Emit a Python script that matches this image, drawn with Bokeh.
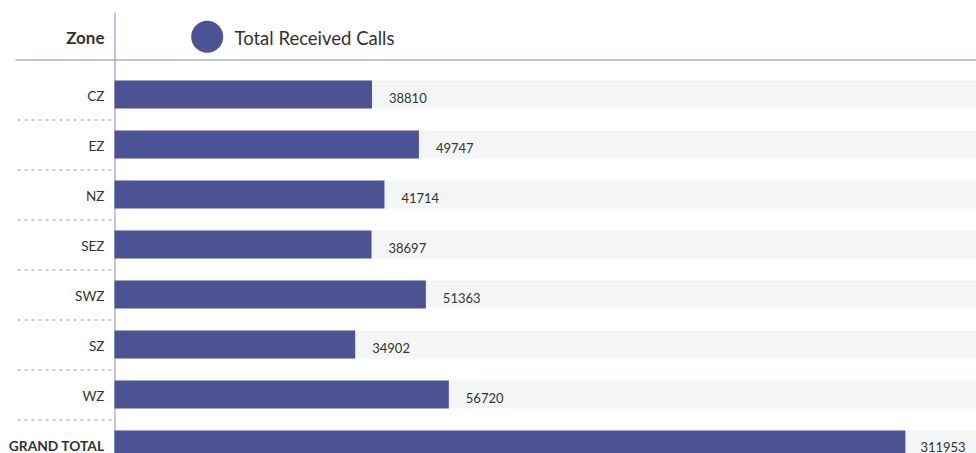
from bokeh.plotting import figure
from bokeh.models import Range1d, ColumnDataSource
from bokeh.core.properties import value
from bokeh.embed import file_html
from bokeh.resources import INLINE

# ---- data ----
zones = ["CZ", "EZ", "NZ", "SEZ", "SWZ", "SZ", "WZ"]
calls = [38810, 49747, 41714, 38697, 51363, 34902, 56720]
total_name = "GRAND TOTAL"
total_calls = 311953
series_name = "Total Received Calls"
axis_title = "Zone"

# ---- layout / style ----
W, H = 976, 453
ORIGIN = 114            # px where the bars start
ZONE_LO, ZONE_HI = -21200, 179700
TOTAL_LO, TOTAL_HI = 0, 340000
NAVY = "#4b5394"
LAVENDER = "#8388c6"
TRACK = "#f4f6f6"
TEXT = "#333333"
FONT = "Lato"
BAR_H = 0.56


def full_range(lo, hi):
    per_px = (hi - lo) / (W - ORIGIN)
    return Range1d(lo - ORIGIN * per_px, hi)


rows = list(range(len(zones)))
total_row = len(zones)

p = figure(width=W, height=H, x_range=Range1d(0, W),
           y_range=Range1d(start=7.18, end=-1.88),
           x_axis_type=None, y_axis_type=None,
           output_backend="svg", toolbar_location=None,
           min_border=0, outline_line_color=None,
           background_fill_color="white", border_fill_color="white")
p.extra_x_ranges = {"zone": full_range(ZONE_LO, ZONE_HI),
                    "total": full_range(TOTAL_LO, TOTAL_HI)}

zsrc = ColumnDataSource(dict(y=rows, v=calls, lab=[str(c) for c in calls], name=zones))
tsrc = ColumnDataSource(dict(y=[total_row], v=[total_calls], lab=[str(total_calls)], name=[total_name]))

# tracks
p.hbar(y="y", left=ZONE_LO, right=ZONE_HI, height=BAR_H, source=zsrc,
       x_range_name="zone", fill_color=TRACK, line_color=None)
p.hbar(y="y", left=TOTAL_LO, right=TOTAL_HI, height=BAR_H, source=tsrc,
       x_range_name="total", fill_color=TRACK, line_color=None)

# vertical axis line
p.segment(x0=ORIGIN + 0.5, y0=-1.64, x1=ORIGIN + 0.5, y1=7.18,
          line_color=LAVENDER, line_width=1)

# bars
p.hbar(y="y", left=ZONE_LO, right="v", height=BAR_H, source=zsrc,
       x_range_name="zone", fill_color=NAVY, line_color=None)
p.hbar(y="y", left=TOTAL_LO, right="v", height=BAR_H, source=tsrc,
       x_range_name="total", fill_color=NAVY, line_color=None)

# header line
p.segment(x0=15, y0=-0.69, x1=W, y1=-0.69, line_color=LAVENDER, line_width=1)

# dashed separators
seps = [r + 0.51 for r in rows]
p.segment(x0=17, y0=seps, x1=ORIGIN, y1=seps, line_color="#9a9a9a",
          line_width=1, line_dash="3 4")

# category labels
p.text(x=104, y="y", text="name", source=zsrc, text_align="right",
       text_baseline="middle", text_font=value(FONT), text_font_size="13.5px",
       text_color=TEXT, y_offset=1)
p.text(x=104, y="y", text="name", source=tsrc, text_align="right",
       text_baseline="middle", text_font=value(FONT), text_font_size="13.8px",
       text_font_style="bold", text_color=TEXT, y_offset=1)

# value labels
p.text(x="v", y="y", text="lab", source=zsrc, x_range_name="zone",
       text_baseline="middle", text_font=value(FONT), text_font_size="13px",
       text_color=TEXT, x_offset=17, y_offset=3)
p.text(x="v", y="y", text="lab", source=tsrc, x_range_name="total",
       text_baseline="middle", text_font=value(FONT), text_font_size="13px",
       text_color=TEXT, x_offset=15, y_offset=2)

# header: title and legend
p.text(x=104, y=-1.15, text=[axis_title], text_align="right", text_baseline="middle",
       text_font=value(FONT), text_font_size="17px", text_font_style="bold",
       text_color=TEXT)
p.scatter(x=[206.7], y=[-1.156], marker="circle", size=32, fill_color=NAVY,
          line_color=None)
p.text(x=234, y=-1.13, text=[series_name], text_align="left", text_baseline="middle",
       text_font=value(FONT), text_font_size="18.5px", text_color=TEXT)

open("out.html", "w").write(file_html(p, INLINE))
